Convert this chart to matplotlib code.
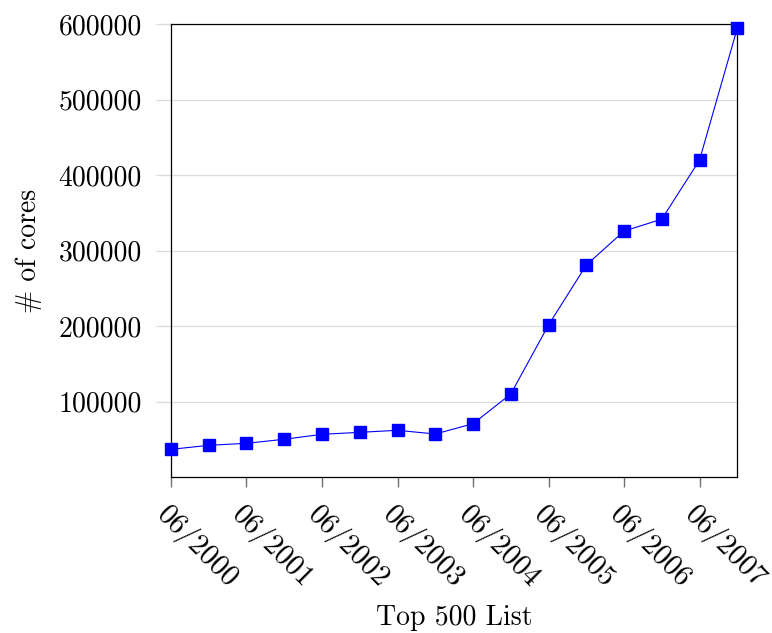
import numpy as np
import matplotlib
matplotlib.use('Agg')
import matplotlib.pyplot as plt

plt.rcParams['font.family'] = ['cmr10', 'DejaVu Serif']
plt.rcParams['axes.formatter.use_mathtext'] = True
plt.rcParams['mathtext.fontset'] = 'cm'

# Top500 lists, June and November each year
lists = ['06/2000', '11/2000', '06/2001', '11/2001', '06/2002', '11/2002',
         '06/2003', '11/2003', '06/2004', '11/2004', '06/2005', '11/2005',
         '06/2006', '11/2006', '06/2007', '11/2007']
cores = [37000, 42300, 45000, 50300, 56900, 59500, 62200, 57300,
         70900, 110200, 201500, 280900, 325900, 341700, 419800, 594400]
y_ticks = [100000, 200000, 300000, 400000, 500000, 600000]

fig = plt.figure(figsize=(7.72, 6.33), dpi=100)
ax_box = [0.2215, 0.246, 0.7335, 0.716]
ax = fig.add_axes(ax_box)

xs = np.arange(len(lists))
ax.plot(xs, cores, color='blue', lw=0.8, marker='s', ms=8,
        mec='blue', mfc='blue', clip_on=False, zorder=3)

ax.set_xlim(0, len(lists) - 1)
ax.set_ylim(0, 600000)

ax.set_xticks(xs[::2])
ax.set_xticklabels(lists[::2], rotation=-45, ha='left', va='top',
                   rotation_mode='anchor', fontsize=21)
ax.set_yticks(y_ticks)
ax.set_yticklabels([str(v) for v in y_ticks], fontsize=20)

ax.grid(axis='y', color='#dcdcdc', lw=0.9)
ax.set_axisbelow(True)
ax.tick_params(axis='x', direction='out', length=7, width=1, color='#707070', pad=10)
ax.tick_params(axis='y', direction='out', length=11, width=1, color='#dcdcdc', pad=10)
for s in ax.spines.values():
    s.set_linewidth(0.9)

ax.set_xlabel('Top 500 List', fontsize=20, va='top')
ax.xaxis.set_label_coords(ax_box[0] + ax_box[2] / 2, 1 - 605 / 633,
                          transform=fig.transFigure)
ax.set_ylabel('# of cores', fontsize=20, labelpad=12)

fig.savefig('out.png', dpi=100)
